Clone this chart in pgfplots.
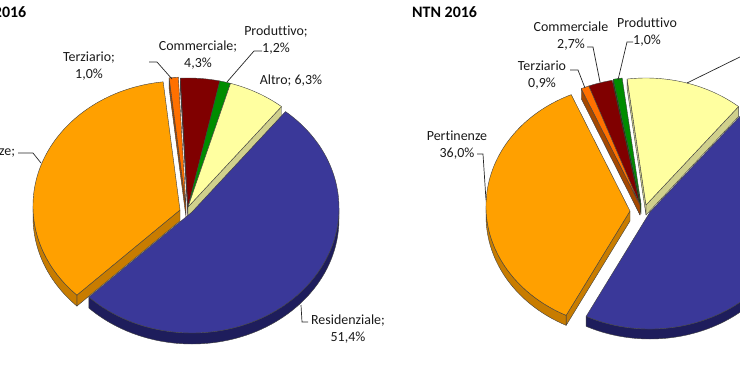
\documentclass[border=0pt]{standalone}
\usepackage{pgfplots}
\pgfplotsset{compat=1.18}
\usepackage{pgfplotstable}
\usepackage{fontspec}
\setmainfont{Carlito}[Ligatures=NoCommon]

\definecolor{cResidenziale}{RGB}{58,56,153}
\definecolor{sResidenziale}{RGB}{30,29,92}
\definecolor{cPertinenze}{RGB}{255,160,0}
\definecolor{sPertinenze}{RGB}{200,124,0}
\definecolor{cTerziario}{RGB}{255,112,0}
\definecolor{sTerziario}{RGB}{165,72,0}
\definecolor{cCommerciale}{RGB}{128,0,0}
\definecolor{sCommerciale}{RGB}{78,0,0}
\definecolor{cProduttivo}{RGB}{0,140,0}
\definecolor{sProduttivo}{RGB}{0,85,0}
\definecolor{cAltro}{RGB}{255,255,160}
\definecolor{sAltro}{RGB}{208,208,140}

% slices in clockwise order: share (%) and explosion offset (px, screen)
\pgfplotstableread{
name pct dx dy
Residenziale 51.4 4 5
Pertinenze 35.8 -8 3
Terziario 1.0 -2 -1
Commerciale 4.3 0 0
Produttivo 1.2 0 0
Altro 6.3 0 0
}\imidata

\pgfplotstableread{
name pct dx dy
Residenziale 46.2 10 7
Pertinenze 36.0 -10 6
Terziario 0.9 0 0
Commerciale 2.7 0 0
Produttivo 1.0 1 -1
Altro 13.2 6 0
}\ntndata

\newcommand\computepie[3]{% table, start angle, prefix
  \pgfmathsetmacro\cur{#2}%
  \pgfplotsforeachungrouped \ii in {0,...,5}{%
    \pgfplotstablegetelem{\ii}{pct}\of#1\let\pc\pgfplotsretval
    \pgfmathsetmacro\sS{\cur-\pc*3.6}%
    \pgfmathsetmacro\sn{mod(\sS+720,360)}%
    \pgfmathsetmacro\en{\sn+\pc*3.6}%
    \expandafter\xdef\csname #3s\ii\endcsname{\sn}%
    \expandafter\xdef\csname #3e\ii\endcsname{\en}%
    \pgfplotstablegetelem{\ii}{name}\of#1%
    \expandafter\xdef\csname #3n\ii\endcsname{\pgfplotsretval}%
    \pgfplotstablegetelem{\ii}{dx}\of#1%
    \expandafter\xdef\csname #3x\ii\endcsname{\pgfplotsretval}%
    \pgfplotstablegetelem{\ii}{dy}\of#1%
    \expandafter\xdef\csname #3y\ii\endcsname{\pgfplotsretval}%
    \let\cur\sS
  }%
}

\newcommand\drawface[1]{%
  \pgfmathsetmacro\Px{\Ex+\pa*cos(#1)}%
  \pgfmathsetmacro\Py{\Ey-\pb*sin(#1)}%
  \pgfmathsetmacro\Pyd{\Py+\pd}%
  \edef\temp{\noexpand\fill[fill=s\nm,draw=black!75,line width=0.4bp,line join=round]
    (axis cs:\Ex,\Ay) -- (axis cs:\Px,\Py) -- (axis cs:\Px,\Pyd) -- (axis cs:\Ex,\Ayd) -- cycle;}\temp}

\newcommand\drawrim[2]{%
  \pgfmathsetmacro\Px{\Ex+\pa*cos(#1)}%
  \pgfmathsetmacro\Py{\Ey-\pb*sin(#1)}%
  \edef\temp{\noexpand\fill[fill=s\nm,draw=black!75,line width=0.4bp,line join=round]
    (axis cs:\Px,\Py) arc[start angle=#1,end angle=#2,x radius=\pa bp,y radius=\pb bp]
    -- ++(0bp,-\pd bp) arc[start angle=#2,end angle=#1,x radius=\pa bp,y radius=\pb bp] -- cycle;}\temp}

% prefix, index, cx, cy, a, b, depth, apex offset
\newcommand\drawslice[8]{%
  \edef\slS{\csname #1s#2\endcsname}%
  \edef\slE{\csname #1e#2\endcsname}%
  \edef\nm{\csname #1n#2\endcsname}%
  \edef\ox{\csname #1x#2\endcsname}%
  \edef\oy{\csname #1y#2\endcsname}%
  \def\pa{#5}\def\pb{#6}\def\pd{#7}%
  \pgfmathsetmacro\Ex{#3+\ox}%
  \pgfmathsetmacro\Ey{#4+\oy}%
  \pgfmathsetmacro\Ay{\Ey+#8}%
  \pgfmathsetmacro\Ayd{\Ay+#7}%
  \pgfmathtruncatemacro\ok{cos(\slS)>0.001 ? 1 : 0}%
  \ifnum\ok=1 \drawface{\slS}\fi
  \pgfmathtruncatemacro\ok{cos(\slE)<-0.001 ? 1 : 0}%
  \ifnum\ok=1 \drawface{\slE}\fi
  \pgfmathsetmacro\lo{max(\slS,180)}\pgfmathsetmacro\hi{min(\slE,360)}%
  \pgfmathtruncatemacro\ok{\hi-\lo>0.05 ? 1 : 0}%
  \ifnum\ok=1 \drawrim{\lo}{\hi}\fi
  \pgfmathsetmacro\lo{max(\slS,540)}\pgfmathsetmacro\hi{min(\slE,720)}%
  \pgfmathtruncatemacro\ok{\hi-\lo>0.05 ? 1 : 0}%
  \ifnum\ok=1 \drawrim{\lo}{\hi}\fi
  \pgfmathsetmacro\Px{\Ex+\pa*cos(\slS)}%
  \pgfmathsetmacro\Py{\Ey-\pb*sin(\slS)}%
  \edef\temp{\noexpand\fill[fill=c\nm,draw=black!75,line width=0.4bp,line join=round]
    (axis cs:\Ex,\Ay) -- (axis cs:\Px,\Py) arc[start angle=\slS,end angle=\slE,x radius=\pa bp,y radius=\pb bp] -- cycle;}\temp
}

\newcommand\lab{\fontsize{14}{16.5}\selectfont}

\begin{document}
\computepie{\imidata}{50.5}{L}%
\computepie{\ntndata}{50}{R}%
\begin{tikzpicture}
\useasboundingbox (0,0) rectangle (740bp,-389bp);
\clip (0,0) rectangle (740bp,-389bp);
\begin{axis}[name=ax, at={(0,0)}, anchor=north west,
  x=1bp, y=1bp, xmin=0, xmax=740, ymin=0, ymax=389, y dir=reverse,
  hide axis, clip=true]
  % left pie (back to front)
  \pgfplotsforeachungrouped \k in {2,3,4,5,1,0}{%
    \drawslice{L}{\k}{188}{203}{147}{125}{11}{4}}
  % right pie
  \pgfplotsforeachungrouped \k in {4,3,5,2,1,0}{%
    \drawslice{R}{\k}{640}{200}{144}{122}{10}{5}}

  % leader lines
  \draw[black!85, line width=0.7bp]
    (axis cs:149,62) -- (axis cs:157,62) -- (axis cs:172,79)
    (axis cs:262,51) -- (axis cs:254,51) -- (axis cs:227,82)
    (axis cs:18,153) -- (axis cs:33,153) -- (axis cs:41,163)
    (axis cs:301,305) -- (axis cs:302,322) -- (axis cs:308,322)
    (axis cs:587,47) -- (axis cs:593,47) -- (axis cs:600,82)
    (axis cs:633,42) -- (axis cs:627,42) -- (axis cs:618,80)
    (axis cs:570,70) -- (axis cs:578,70) -- (axis cs:585,88)
    (axis cs:477,154) -- (axis cs:483,154) -- (axis cs:486,200)
    (axis cs:687,83) -- (axis cs:748,53);

  % titles
  \node[anchor=east, font=\fontsize{16}{19}\selectfont\bfseries, inner sep=0pt] at (axis cs:26.5,12) {IMI 2016};
  \node[anchor=west, font=\fontsize{16}{19}\selectfont\bfseries, inner sep=0pt] at (axis cs:412,12) {NTN 2016};

  % left labels
  \node[align=center, font=\lab, text=black!90, inner sep=0pt] at (axis cs:89,66) {Terziario;\\1,0\%};
  \node[align=center, font=\lab, text=black!90, inner sep=0pt] at (axis cs:198,55) {Commerciale;\\4,3\%};
  \node[align=center, font=\lab, text=black!90, inner sep=0pt] at (axis cs:276,40) {Produttivo;\\1,2\%};
  \node[align=center, font=\lab, text=black!90, inner sep=0pt] at (axis cs:291,81) {Altro; 6,3\%};
  \node[align=center, font=\lab, text=black!90, inner sep=0pt] at (axis cs:-17,160) {Pertinenze;\\35,8\%};
  \node[align=center, font=\lab, text=black!90, inner sep=0pt] at (axis cs:348,329) {Residenziale;\\51,4\%};

  % right labels
  \node[align=center, font=\lab, text=black!90, inner sep=0pt] at (axis cs:571,36) {Commerciale\\2,7\%};
  \node[align=center, font=\lab, text=black!90, inner sep=0pt] at (axis cs:647,32) {Produttivo\\1,0\%};
  \node[align=center, font=\lab, text=black!90, inner sep=0pt] at (axis cs:542,75) {Terziario\\0,9\%};
  \node[align=center, font=\lab, text=black!90, inner sep=0pt] at (axis cs:457,145) {Pertinenze\\36,0\%};
  \node[align=center, font=\lab, text=black!90, inner sep=0pt] at (axis cs:775,45) {Altro\\13,2\%};
  \node[align=center, font=\lab, text=black!90, inner sep=0pt] at (axis cs:810,330) {Residenziale\\46,2\%};
\end{axis}
\end{tikzpicture}
\end{document}
